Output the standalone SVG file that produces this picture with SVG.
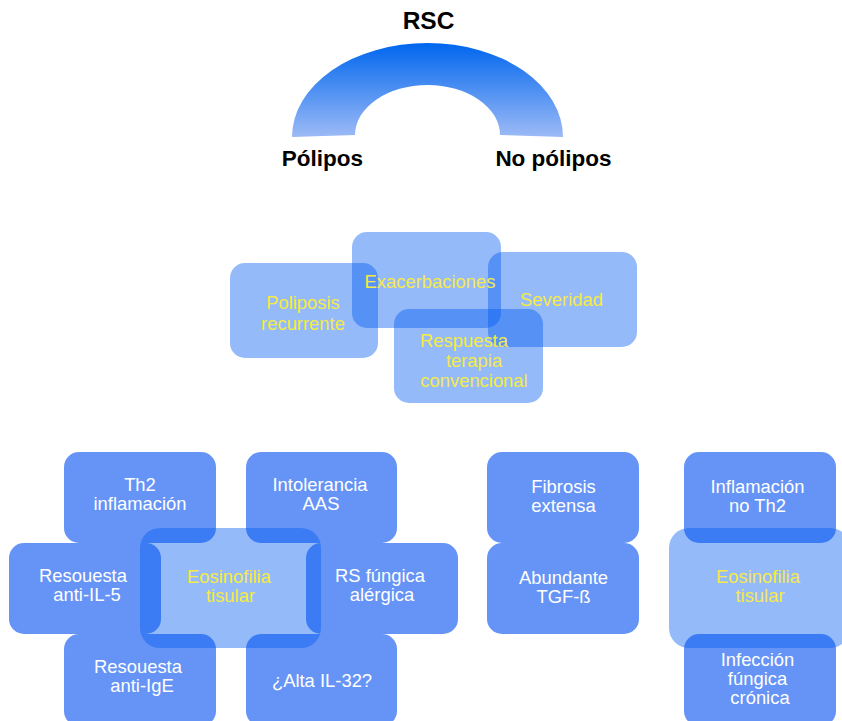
<svg xmlns="http://www.w3.org/2000/svg" width="842" height="721" viewBox="0 0 842 721">
<defs>
<linearGradient id="archGrad" x1="0" y1="43" x2="0" y2="137" gradientUnits="userSpaceOnUse">
<stop offset="0" stop-color="#0066ee"/>
<stop offset="1" stop-color="#9cbaf6"/>
</linearGradient>
<style>
.lt{fill:rgb(0,90,240);fill-opacity:0.42}
.md{fill:#6694f6}
.w{fill:#ffffff;font-family:"Liberation Sans",Arial,sans-serif;font-size:18.4px;text-anchor:middle}
.y{fill:#f6ea45;font-family:"Liberation Sans",Arial,sans-serif;font-size:18.4px;text-anchor:middle}
.h{fill:#000000;font-family:"Liberation Sans",Arial,sans-serif;font-weight:bold;text-anchor:middle}
</style>
</defs>
<rect width="842" height="721" fill="#ffffff"/>

<g id="header">
<path d="M292,137 A135.5,94 0 0 1 563,137 L500,135 A72.5,50 0 0 0 355,135 Z" fill="url(#archGrad)"/>
<text class="h" x="428.5" y="28.5" font-size="24.5">RSC</text>
<text class="h" x="322.5" y="166" font-size="22.5">Pólipos</text>
<text class="h" x="553.5" y="166" font-size="22.5">No pólipos</text>
</g>

<g id="connectors"/>

<g id="poliposis">
<rect class="lt" x="230" y="263" width="148" height="95" rx="15"/>
<text class="y" x="303" y="309">Poliposis</text>
<text class="y" x="303" y="330">recurrente</text>
</g>
<g id="severidad">
<rect class="lt" x="488" y="252" width="149" height="95" rx="15"/>
<text class="y" x="561.5" y="306">Severidad</text>
</g>
<g id="exacerbaciones">
<rect class="lt" x="352" y="232" width="149" height="96" rx="15"/>
<text class="y" x="430" y="288">Exacerbaciones</text>
</g>
<g id="respuesta">
<rect class="lt" x="394" y="309" width="149" height="94" rx="15"/>
<text class="y" x="464" y="346.5">Respuesta</text>
<text class="y" x="474" y="367">terapia</text>
<text class="y" x="474" y="387">convencional</text>
</g>

<g id="th2">
<rect class="md" x="64" y="452" width="152" height="91" rx="15"/>
<text class="w" x="140" y="491">Th2</text>
<text class="w" x="140" y="510">inflamación</text>
</g>
<g id="intolerancia">
<rect class="md" x="246" y="452" width="151" height="91" rx="15"/>
<text class="w" x="320" y="491">Intolerancia</text>
<text class="w" x="321" y="510">AAS</text>
</g>
<g id="anti-il5">
<rect class="md" x="9" y="543" width="152" height="91" rx="15"/>
<text class="w" x="83" y="582">Resouesta</text>
<text class="w" x="87" y="601">anti-IL-5</text>
</g>
<g id="rs-fungica">
<rect class="md" x="306" y="543" width="152" height="91" rx="15"/>
<text class="w" x="380" y="582">RS fúngica</text>
<text class="w" x="382" y="601">alérgica</text>
</g>
<g id="anti-ige">
<rect class="md" x="64" y="634" width="152" height="92" rx="15"/>
<text class="w" x="138" y="673">Resouesta</text>
<text class="w" x="142" y="692">anti-IgE</text>
</g>
<g id="il32">
<rect class="md" x="246" y="634" width="151" height="92" rx="15"/>
<text class="w" x="322" y="687">¿Alta IL-32?</text>
</g>
<g id="eosinofilia-1">
<rect class="lt" x="140" y="528" width="181" height="120" rx="20"/>
<text class="y" x="229" y="583">Eosinofilia</text>
<text class="y" x="230.5" y="602">tisular</text>
</g>

<g id="fibrosis">
<rect class="md" x="487" y="452" width="152" height="91" rx="15"/>
<text class="w" x="563.5" y="493">Fibrosis</text>
<text class="w" x="563.5" y="512">extensa</text>
</g>
<g id="tgf">
<rect class="md" x="487" y="543" width="152" height="91" rx="15"/>
<text class="w" x="563.5" y="583.5">Abundante</text>
<text class="w" x="563.5" y="602.5">TGF-ß</text>
</g>

<g id="no-th2">
<rect class="md" x="684" y="452" width="152" height="91" rx="15"/>
<text class="w" x="757.5" y="493">Inflamación</text>
<text class="w" x="757.5" y="512">no Th2</text>
</g>
<g id="infeccion">
<rect class="md" x="684" y="634" width="152" height="92" rx="15"/>
<text class="w" x="757.5" y="665.5">Infección</text>
<text class="w" x="757.5" y="684.5">fúngica</text>
<text class="w" x="760" y="703.5">crónica</text>
</g>
<g id="eosinofilia-2">
<rect class="lt" x="669" y="528" width="181" height="120" rx="20"/>
<text class="y" x="758" y="583">Eosinofilia</text>
<text class="y" x="760" y="602">tisular</text>
</g>
</svg>
